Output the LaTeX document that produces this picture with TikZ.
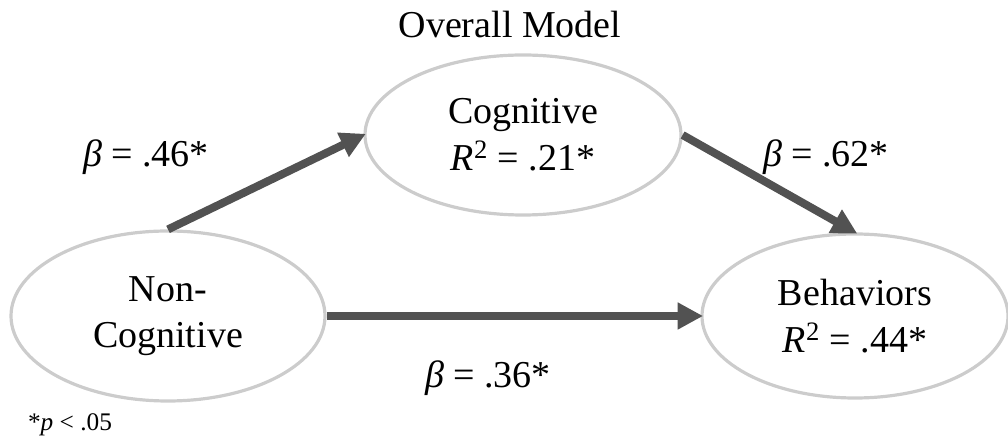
\documentclass[tikz,border=0pt]{standalone}
\usepackage{fontspec}
\setmainfont{Liberation Serif}
\usetikzlibrary{shapes.geometric,arrows.meta}
\begin{document}
\begin{tikzpicture}[x=0.75pt,y=-0.75pt,
  every node/.style={font=\fontsize{28.5}{35}\selectfont},
  var/.style={ellipse,draw=black!20,line width=2.4pt,align=center,inner sep=0pt},
  path/.style={draw=black!68,line width=6pt,-{Triangle[length=19pt,width=19pt]},shorten >=-2pt},
  lbl/.style={inner sep=0pt}]
\useasboundingbox (0,0) rectangle (1008,441);
\node[var,minimum width=314*0.75pt,minimum height=170*0.75pt] (nc) at (168,316) {Non-\\Cognitive};
\node[var,minimum width=316*0.75pt,minimum height=160*0.75pt] (cog) at (523,135) {Cognitive\\\textit{R}\textsuperscript{2} = .21*};
\node[var,minimum width=306*0.75pt,minimum height=164*0.75pt] (beh) at (855,316) {Behaviors\\\textit{R}\textsuperscript{2} = .44*};
\node[lbl] (title) at (510,25) {Overall Model};
\draw[path] (nc.north) -- (cog.west);
\draw[path] (cog.east) -- (beh.north);
\draw[path] (nc.east) -- (beh.west);
\node[lbl] (b1) at (146,157) {\textit{β} = .46*};
\node[lbl] (b2) at (826,157) {\textit{β} = .62*};
\node[lbl] (b3) at (488,378) {\textit{β} = .36*};
\node[lbl,font=\fontsize{19}{22}\selectfont] (note) at (70,425) {*\textit{p} {\textless} .05};
\end{tikzpicture}
\end{document}
